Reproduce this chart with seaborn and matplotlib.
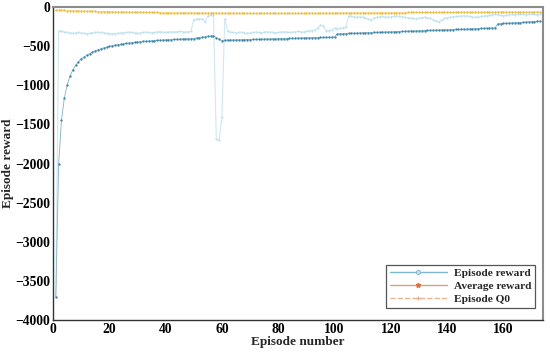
import numpy as np
import pandas as pd
import matplotlib
matplotlib.use("Agg")
import matplotlib.pyplot as plt
from matplotlib.lines import Line2D
import seaborn as sns

# ---------------- data ----------------
episode_reward = (
    [-3700, -310, -300]
    + [-320, -325, -330, -335, -330, -325, -330, -335, -340, -335,
       -330, -325, -320, -325, -330, -335, -340, -345, -340, -335,
       -330, -330, -325, -320, -325, -330, -335, -330, -325, -320,
       -325, -330, -325, -320, -315, -320, -325, -320, -315, -320,
       -315, -310, -315, -320, -315, -310]
    + [-160, -150, -155, -150, -190, -110, -100, -105, -1690, -1700, -1400, -150, -310]
    + [-320, -325, -330, -325, -320, -330, -335, -330, -325, -320,
       -325, -330, -320, -315, -320, -325, -330, -325, -320, -315,
       -320, -325, -320, -315, -310, -315, -320, -310, -305, -300,
       -290, -270]
    + [-230, -240, -300, -300, -290, -270, -275, -270, -265, -260]
    + [-115, -120, -125, -130, -125, -130, -140, -150, -165, -140,
       -130, -125, -120, -125, -130, -125, -120, -115, -120, -125,
       -130, -135, -140, -145, -150, -140, -135, -130, -135, -140,
       -160, -175, -190, -165, -145, -135, -130, -125, -120, -120,
       -115, -110, -115, -120, -125, -130, -125, -120, -115, -110,
       -105, -100, -95, -100, -105, -110, -105, -100, -95, -100,
       -95, -90, -95, -100, -95, -90, -95, -100, -95]
)

average_reward = (
    [-3700, -2010, -1450, -1165, -1000, -885, -805, -745, -700, -660,
     -641, -615, -594, -575, -559, -545, -533, -522, -512, -503,
     -495, -488, -481, -475, -470, -464, -460, -455, -451, -447,
     -444, -440, -437, -434, -431, -428, -426, -424, -421, -419,
     -417, -415, -413, -411, -410, -408, -407, -405, -404, -402,
     -395, -390, -385, -381, -376, -371, -366, -390, -412, -428,
     -424, -423]
    + [-422, -421, -420, -419, -418, -417, -416, -415, -414, -413,
       -412, -411, -410, -409, -408, -407, -406, -405, -404, -403,
       -402, -401, -400, -399, -398, -397, -396, -395, -394, -392,
       -391, -390, -389, -388, -387, -386, -385, -383]
    + [-342, -341, -339, -338, -337, -335, -334, -333, -331, -330,
       -329, -327, -326, -325, -323, -322, -321, -319, -318, -317,
       -315, -314, -313, -311, -310, -309, -307, -306, -305, -303,
       -302, -301, -299, -298, -297, -295, -294, -293, -291, -290,
       -289, -287, -286, -285, -283, -282, -281, -279, -278, -277,
       -275, -274, -273, -271, -270, -268, -266]
    + [-214, -212, -210, -208, -206, -204, -202, -200, -198, -195,
       -192, -190, -187, -185, -182, -180]
)

episode_q0 = [
    -35, -38, -40, -42, -44, -45, -47, -48, -50, -51,
    -52, -53, -54, -55, -56, -57, -58, -58, -59, -60,
    -60, -61, -62, -62, -63, -64, -64, -65, -65, -66,
    -66, -67, -67, -68, -68, -69, -69, -70, -70, -70,
    -71, -71, -72, -72, -72, -73, -73, -73, -74, -74,
    -74, -75, -75, -75, -76, -76, -76, -77, -77, -77,
    -78, -78, -78, -78, -79, -79, -79, -79, -80, -80,
    -80, -80, -80, -80, -80, -80, -80, -80, -80, -80,
    -80, -80, -80, -79, -79, -79, -79, -79, -78, -78,
    -78, -78, -78, -77, -77, -77, -77, -76, -76, -76,
    -75, -75, -75, -75, -74, -74, -74, -74, -73, -73,
    -73, -73, -72, -72, -72, -72, -71, -71, -71, -71,
    -70, -70, -70, -70, -70, -69, -69, -69, -69, -69,
    -68, -68, -68, -68, -68, -68, -67, -67, -67, -67,
    -67, -67, -66, -66, -66, -66, -66, -66, -66, -65,
    -65, -65, -65, -65, -65, -65, -64, -64, -64, -64,
    -64, -64, -64, -63, -63, -63, -63, -63, -63, -63,
    -62, -62, -62,
]

legend_labels = ["Episode reward", "Average reward", "Episode Q0"]
x_ticks = [0, 20, 40, 60, 80, 100, 120, 140, 160]
y_ticks = [-4000, -3500, -3000, -2500, -2000, -1500, -1000, -500, 0]

# ---------------- plot ----------------
sns.set_theme(style="white")
plt.rcParams["font.family"] = ["Liberation Serif", "DejaVu Serif"]
plt.rcParams["font.weight"] = "bold"
plt.rcParams["axes.labelweight"] = "bold"

fig = plt.figure(figsize=(5.5, 3.53), dpi=100)
ax = fig.add_axes([0.0964, 0.0935, 0.8906, 0.8865])

df_ep = pd.DataFrame({"x": np.arange(1, len(episode_reward) + 1), "y": episode_reward})
df_av = pd.DataFrame({"x": np.arange(1, len(average_reward) + 1), "y": average_reward})
df_q0 = pd.DataFrame({"x": np.arange(1, len(episode_q0) + 1), "y": episode_q0})

sns.lineplot(data=df_ep, x="x", y="y", ax=ax, color="#cfe8f2", linewidth=0.8,
             marker="o", markersize=1.5, markeredgewidth=0, markerfacecolor="#bde0ee")
sns.lineplot(data=df_av, x="x", y="y", ax=ax, color="#7fb2ca", linewidth=0.6,
             marker="o", markersize=1.7, markeredgewidth=0, markerfacecolor="#3f86a8")
sns.lineplot(data=df_q0, x="x", y="y", ax=ax, color="#f5dc95", linewidth=0.6,
             marker="o", markersize=1.7, markeredgewidth=0, markerfacecolor="#e9bd45")

ax.set_xlim(0, 174)
ax.set_ylim(-4000, 0)
ax.set_xticks(x_ticks)
ax.set_yticks(y_ticks)
ax.set_xlabel("Episode number", fontsize=9.5, fontweight="bold", labelpad=0)
ax.set_ylabel("Episode reward", fontsize=9.5, fontweight="bold", labelpad=1)
ax.tick_params(axis="both", labelsize=9.8, direction="in", length=3, width=0.6,
               colors="#333333", pad=2)
for lab in ax.get_xticklabels() + ax.get_yticklabels():
    lab.set_fontweight("bold")
    lab.set_color("black")

for side in ["left", "bottom"]:
    ax.spines[side].set_color("#333333")
    ax.spines[side].set_linewidth(1.0)
for side in ["top", "right"]:
    ax.spines[side].set_color("#8c8c8c")
    ax.spines[side].set_linewidth(1.5)

handles = [
    Line2D([0], [0], color="#7fb6d0", lw=1.0, marker="o", markersize=3,
           markerfacecolor="#bfe0ee", markeredgecolor="#7fb6d0", markeredgewidth=0.6),
    Line2D([0], [0], color="#d3a287", lw=1.0, marker="*", markersize=3.5,
           markerfacecolor="#e07040", markeredgecolor="#e07040"),
    Line2D([0], [0], color="#e9b48f", lw=1.0, ls="--", marker="+", markersize=3,
           markeredgecolor="#e9b48f"),
]
leg = ax.legend(handles, legend_labels, loc="lower right", fontsize=8.2,
                frameon=True, fancybox=False, framealpha=1, edgecolor="#555555",
                borderpad=0.35, labelspacing=0.25, handlelength=5.0, handletextpad=0.6,
                bbox_to_anchor=(0.984, 0.038), borderaxespad=0)
leg.get_frame().set_linewidth(0.9)
for t in leg.get_texts():
    t.set_fontweight("bold")

fig.savefig("out.png", dpi=100)
